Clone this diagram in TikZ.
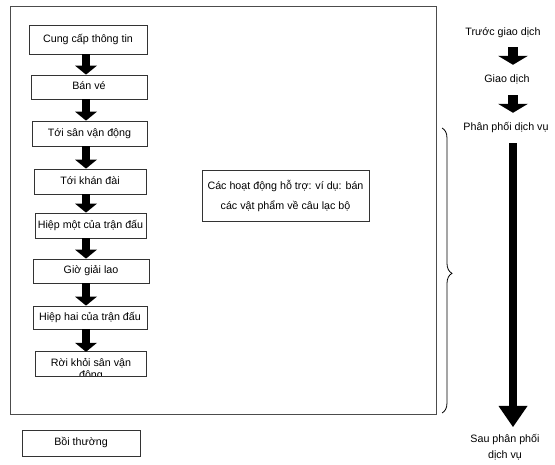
\documentclass[tikz,border=0pt]{standalone}
\usepackage{fontspec}
\setmainfont{Liberation Sans}
\usetikzlibrary{arrows.meta,decorations.pathreplacing,calc}
\begin{document}
\begin{tikzpicture}[x=1pt,y=-1pt,
  every node/.style={font=\fontsize{10.7}{13}\selectfont, inner sep=0pt},
  stepbox/.style={draw=black!80, line width=0.8pt, fill=white, text height=8pt, text depth=2.5pt},
  onetext/.style={text height=8pt, text depth=2.5pt},
  flowarrow/.style={line width=8pt, -{Triangle[width=22pt,length=9pt,line width=0pt]}},
  phasearrow/.style={line width=10pt, -{Triangle[width=30pt,length=9pt,line width=0pt]}},
  longarrow/.style={line width=8pt, -{Triangle[width=29pt,length=21pt,line width=0pt]}},
  frame/.style={draw=black!70, line width=0.8pt}
]
\useasboundingbox (0,0) rectangle (555,465);

% outer frame
\draw[frame] (10,6) rectangle (436,414);

% flow boxes
\node[stepbox, minimum width=118pt, minimum height=29pt] (b1) at (88,39.5) {Cung cấp thông tin};
\node[stepbox, minimum width=116pt, minimum height=24pt] (b2) at (89,87) {Bán vé};
\node[stepbox, minimum width=115pt, minimum height=25pt] (b3) at (89.5,133.5) {Tới sân vận động};
\node[stepbox, minimum width=112pt, minimum height=25pt] (b4) at (90,181.5) {Tới khán đài};
\node[stepbox, minimum width=111pt, minimum height=25pt] (b5) at (90.5,225.5) {Hiệp một của trận đấu};
\node[stepbox, minimum width=116pt, minimum height=24pt] (b6) at (91,271) {Giờ giải lao};
\node[stepbox, minimum width=114pt, minimum height=23pt] (b7) at (90,317.5) {Hiệp hai của trận đấu};
\node[minimum width=110pt, minimum height=24pt, fill=white] (b8) at (91,364) {};
\begin{scope}
  \clip (b8.north west) rectangle (b8.south east);
  \node[align=center, anchor=north, font=\fontsize{10.7}{12}\selectfont] (b8t) at ([yshift=-6.5pt]b8.north) {Rời khỏi sân vận\\động};
\end{scope}
\draw[draw=black!80, line width=0.8pt] (b8.north west) rectangle (b8.south east);

\node[stepbox, minimum width=118pt, minimum height=26pt] (comp) at (81,443) {Bồi thường};

\node[draw=black!80, line width=0.8pt, fill=white, minimum width=167pt, minimum height=51pt, align=center,
      font=\fontsize{10.7}{20}\selectfont] (sup) at (285.5,195.5) {Các hoạt động hỗ trợ: ví dụ: bán\\các vật phẩm về câu lạc bộ};

% flow arrows
\coordinate (ax) at (86,0);
\draw[flowarrow] (b1.south -| ax) -- (b2.north -| ax);
\draw[flowarrow] (b2.south -| ax) -- (b3.north -| ax);
\draw[flowarrow] (b3.south -| ax) -- (b4.north -| ax);
\draw[flowarrow] (b4.south -| ax) -- (b5.north -| ax);
\draw[flowarrow] (b5.south -| ax) -- (b6.north -| ax);
\draw[flowarrow] (b6.south -| ax) -- (b7.north -| ax);
\draw[flowarrow] (b7.south -| ax) -- (b8.north -| ax);

% right column
\node[onetext] (r1) at (503,33) {Trước giao dịch};
\node[onetext] (r2) at (507,80) {Giao dịch};
\node[onetext] (r3) at (506,128) {Phân phối dịch vụ};
\node[align=center, anchor=north, font=\fontsize{10.7}{16}\selectfont] (r4) at (505,434) {Sau phân phối\\dịch vụ};

\coordinate (rx) at (513,0);
\draw[phasearrow, shorten <=8.75pt, shorten >=9.75pt] (r1.south -| rx) -- (r2.north -| rx);
\draw[phasearrow, shorten <=9.75pt, shorten >=9.75pt] (r2.south -| rx) -- (r3.north -| rx);
\draw[longarrow, shorten <=9.75pt, shorten >=7pt] (r3.south -| rx) -- (r4.north -| rx);

% brace
\coordinate (brtop) at (442,128);
\coordinate (brbot) at (442,413);
\draw[decorate, decoration={brace, amplitude=10pt, aspect=0.51}, line width=0.8pt] (brtop) -- (brbot);
\end{tikzpicture}
\end{document}
